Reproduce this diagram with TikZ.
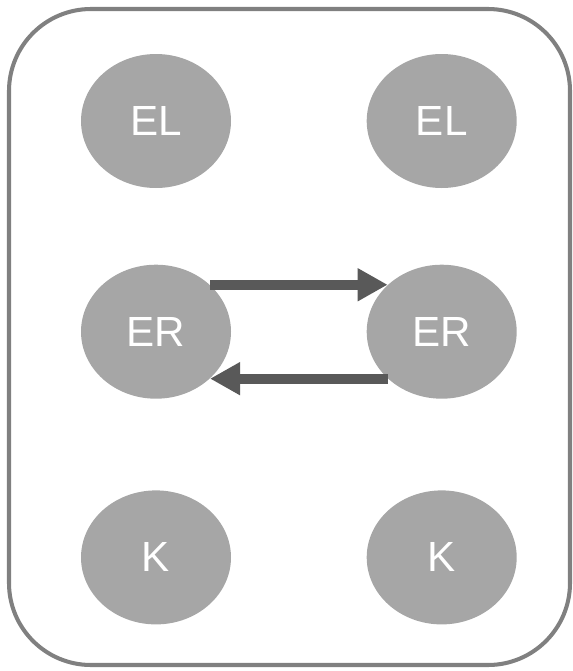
\documentclass[tikz,border=0pt]{standalone}
\usepackage{fontspec}
\setmainfont{Liberation Sans}
\usetikzlibrary{shapes.geometric, arrows.meta, positioning}

\definecolor{ovalgray}{HTML}{A6A6A6}
\definecolor{arrowgray}{HTML}{595959}
\definecolor{framegray}{HTML}{808080}

\begin{document}
\begin{tikzpicture}
			\tikzstyle{Oval} = [ %grey ellipse with white label
				ellipse,
				minimum width=3cm,
				minimum height=2.68cm,
				inner sep=0pt,
				fill=ovalgray,
				text=white,
				font=\fontsize{24}{28}\selectfont
			]
			\tikzstyle{Link} = [
				draw=arrowgray,
				line width=5.7pt,
				-{Triangle[length=0.6cm, width=0.62cm]}
			]
			\useasboundingbox (0,0) rectangle (11.46,-13.42);
			\draw[framegray, line width=2.3pt, rounded corners=1.64cm] (0.18,-0.18) rectangle (11.40,-13.30);
			
			\node (EL1) [Oval] at (3.12,-2.42) {EL};
			\node (EL2) [Oval, right = 2.7cm of EL1] {EL};
			\node (ER1) [Oval, below = 1.52cm of EL1] {ER};
			\node (ER2) [Oval, below = 1.52cm of EL2] {ER};
			\node (K1) [Oval, below = 1.82cm of ER1] {K};
			\node (K2) [Oval, below = 1.82cm of ER2] {K};
			
			\draw[Link] (ER1.41) -- (ER2.139);
			\draw[Link] (ER2.-139) -- (ER1.-41);
\end{tikzpicture}
\end{document}
